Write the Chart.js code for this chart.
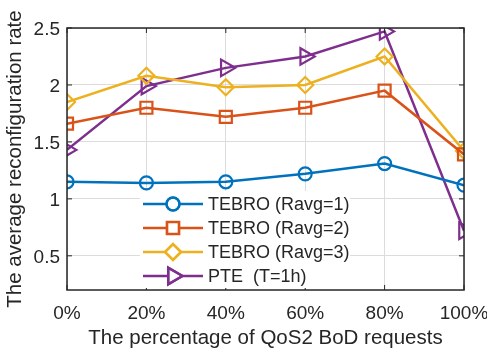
<!DOCTYPE html>
<html>
<head>
<meta charset="utf-8">
<script src="https://cdn.jsdelivr.net/npm/chart.js@4/dist/chart.umd.min.js"></script>
<style>
    html, body { margin: 0; padding: 0; background: #fff; }
    #wrap { width: 487px; height: 353px; }
</style>
</head>
<body>
<div id="wrap"><canvas id="rateChart" width="487" height="353"></canvas></div>
<script>
// Reconfiguration rate vs share of QoS2 BoD requests

const percentages = [0, 20, 40, 60, 80, 100];
const seriesNames = ['TEBRO (Ravg=1)', 'TEBRO (Ravg=2)', 'TEBRO (Ravg=3)', 'PTE  (T=1h)'];
const tebroR1 = [1.15, 1.14, 1.15, 1.22, 1.31, 1.12];
const tebroR2 = [1.66, 1.80, 1.72, 1.80, 1.95, 1.39];
const tebroR3 = [1.85, 2.08, 1.98, 2.00, 2.25, 1.42];
const pte = [1.43, 1.99, 2.15, 2.25, 2.47, 0.72];
const yTicks = [0.5, 1, 1.5, 2, 2.5];

const textColor = '#262626';
const fontFamily = '"Liberation Sans", Arial, Helvetica, sans-serif';

function toPoints(values) {
    return values.map((v, i) => ({ x: percentages[i], y: v }));
}

const styles = [
    { color: '#0072BD', shape: 'circle', radius: 6.5, rotation: 0 },
    { color: '#D95319', shape: 'rect', radius: 8.5, rotation: 0 },
    { color: '#EDB120', shape: 'rectRot', radius: 8, rotation: 0 },
    { color: '#7E2F8E', shape: 'triangle', radius: 9.5, rotation: 90 }
];

const datasets = [tebroR1, tebroR2, tebroR3, pte].map((vals, i) => ({
    label: seriesNames[i],
    data: toPoints(vals),
    borderColor: styles[i].color,
    backgroundColor: '#ffffff',
    borderWidth: 2.5,
    pointStyle: styles[i].shape,
    pointRadius: styles[i].radius,
    pointRotation: styles[i].rotation,
    pointBorderWidth: 2.2,
    pointBackgroundColor: 'rgba(255,255,255,0)',
    pointBorderColor: styles[i].color,
    tension: 0
}));

// box frame + inward tick marks, MATLAB style
const framePlugin = {
    id: 'frame',
    afterDatasetsDraw(chart) {
        const { ctx, chartArea: a, scales } = chart;
        ctx.save();
        ctx.strokeStyle = textColor;
        ctx.lineWidth = 1.5;
        ctx.strokeRect(a.left, a.top, a.right - a.left, a.bottom - a.top);
        ctx.lineWidth = 1;
        ctx.beginPath();
        scales.x.ticks.forEach(t => {
            const px = scales.x.getPixelForValue(t.value);
            ctx.moveTo(px, a.bottom); ctx.lineTo(px, a.bottom - 5);
            ctx.moveTo(px, a.top); ctx.lineTo(px, a.top + 5);
        });
        scales.y.ticks.forEach(t => {
            const py = scales.y.getPixelForValue(t.value);
            ctx.moveTo(a.left, py); ctx.lineTo(a.left + 5, py);
            ctx.moveTo(a.right, py); ctx.lineTo(a.right - 5, py);
        });
        ctx.stroke();
        ctx.restore();
    }
};

// legend drawn inside the plot area
const insideLegend = {
    id: 'insideLegend',
    afterDatasetsDraw(chart) {
        const ctx = chart.ctx;
        const a = chart.chartArea;
        const left = a.left + 76;
        const top = a.top + 163;
        ctx.save();
        ctx.fillStyle = '#ffffff';
        ctx.fillRect(left - 3, top, 210, a.bottom - top - 2);
        chart.data.datasets.forEach((ds, i) => {
            const y = top + 13 + i * 24;
            ctx.strokeStyle = ds.borderColor;
            ctx.lineWidth = ds.borderWidth;
            ctx.beginPath();
            ctx.moveTo(left, y);
            ctx.lineTo(left + 60, y);
            ctx.stroke();
            ctx.fillStyle = '#ffffff';
            Chart.helpers.drawPoint(ctx, {
                pointStyle: ds.pointStyle,
                radius: ds.pointRadius,
                rotation: ds.pointRotation,
                borderWidth: ds.pointBorderWidth
            }, left + 30, y);
            ctx.strokeStyle = ds.pointBorderColor;
            ctx.lineWidth = ds.pointBorderWidth;
            ctx.stroke();
            ctx.fillStyle = textColor;
            ctx.font = '18px ' + fontFamily;
            ctx.textAlign = 'left';
            ctx.textBaseline = 'middle';
            ctx.fillText(ds.label, left + 65, y + 1);
        });
        ctx.restore();
    }
};

const rateChart = new Chart(document.getElementById('rateChart').getContext('2d'), {
    type: 'line',
    data: { datasets: datasets },
    options: {
        responsive: false,
        animation: false,
        devicePixelRatio: 1,
        layout: { padding: { top: 28, right: 23, left: 0, bottom: 0 } },
        plugins: {
            legend: { display: false },
            tooltip: { enabled: false }
        },
        scales: {
            x: {
                type: 'linear',
                min: 0,
                max: 100,
                afterFit: s => {
                    s.height = 63;
                    s.paddingLeft = 0;
                    s.paddingRight = 0;
                },
                ticks: {
                    stepSize: 20,
                    callback: v => v + '%',
                    color: textColor,
                    font: { family: fontFamily, size: 19 },
                    padding: 12,
                    maxRotation: 0
                },
                grid: { color: '#dcdcdc', lineWidth: 1, drawTicks: false },
                border: { display: false },
                title: {
                    display: true,
                    text: 'The percentage of QoS2 BoD requests',
                    color: textColor,
                    font: { family: fontFamily, size: 20.5 },
                    padding: { top: 0, bottom: 2 }
                }
            },
            y: {
                min: 0.2,
                max: 2.5,
                afterFit: s => {
                    s.width = 67;
                    s.paddingTop = 0;
                    s.paddingBottom = 0;
                },
                afterBuildTicks: s => { s.ticks = yTicks.map(v => ({ value: v })); },
                ticks: {
                    callback: v => String(v),
                    color: textColor,
                    font: { family: fontFamily, size: 19 },
                    padding: 7,
                    labelOffset: 2
                },
                grid: { color: '#dcdcdc', lineWidth: 1, drawTicks: false },
                border: { display: false },
                title: {
                    display: true,
                    text: 'The average reconfiguration rate',
                    color: textColor,
                    font: { family: fontFamily, size: 20.5 },
                    padding: { top: 3, bottom: 0 }
                }
            }
        }
    },
    plugins: [framePlugin, insideLegend]
});
</script>
</body>
</html>
